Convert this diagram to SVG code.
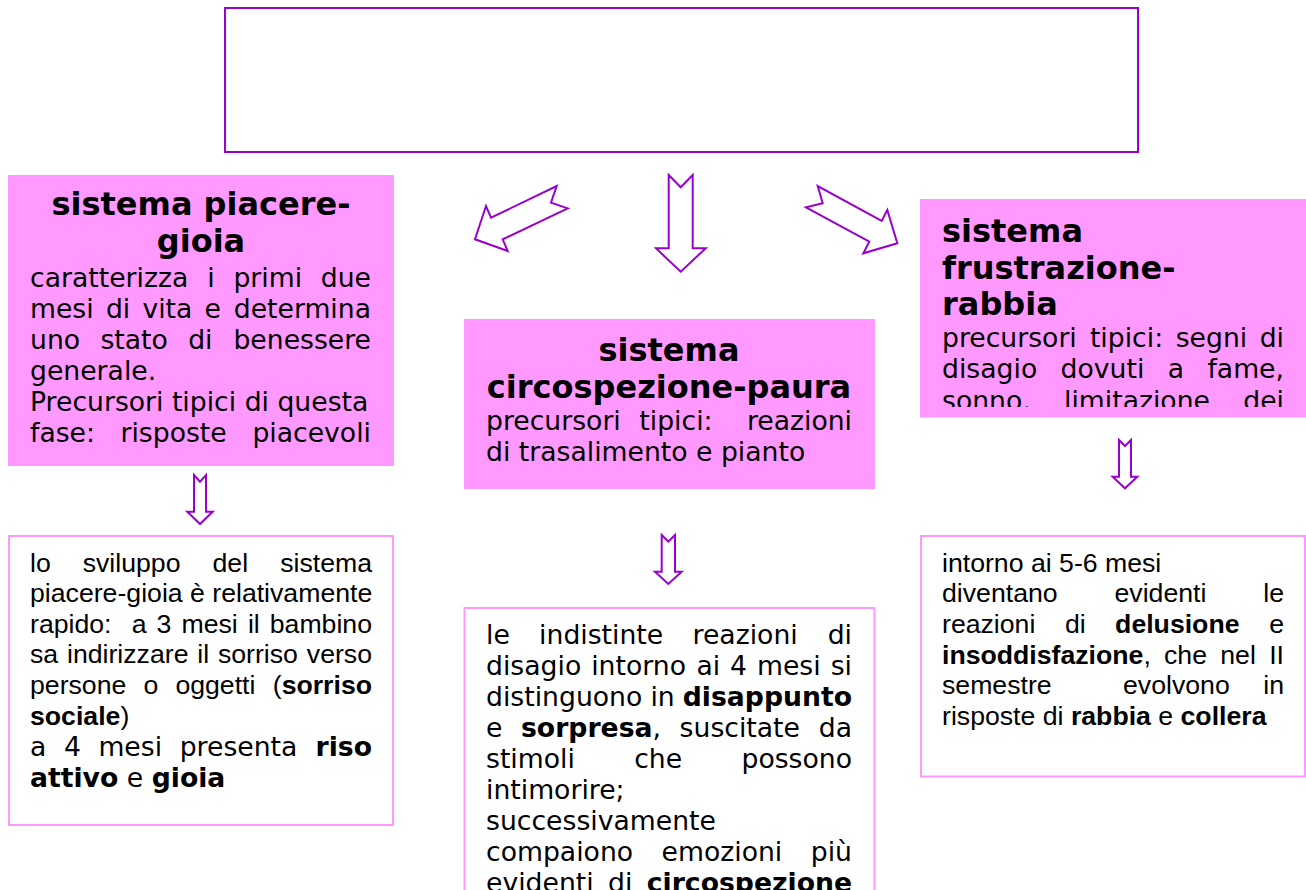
<svg xmlns="http://www.w3.org/2000/svg" width="1306" height="890" viewBox="0 0 1306 890">
<style>
.d{font-family:"DejaVu Sans",sans-serif;font-size:26.67px;fill:#000}
.t{font-family:"DejaVu Sans",sans-serif;font-size:32px;font-weight:bold;fill:#000}
.a{font-family:"Liberation Sans",Arial,sans-serif;font-size:26.67px;fill:#000}
.b{font-weight:bold}
.e{text-anchor:end}
.c{text-anchor:middle}
.pink{fill:#ff99ff;stroke:none}
.wbox{fill:#ffffff;stroke:#ff99ff;stroke-width:2}
.arr{fill:#ffffff;stroke:#9900cc;stroke-width:2;stroke-linejoin:miter}
</style>
<defs>
<clipPath id="clip1"><rect x="8" y="175" width="386" height="283"/></clipPath>
<clipPath id="clip3"><rect x="920" y="199" width="386" height="208"/></clipPath>
</defs>
<rect width="1306" height="890" fill="#ffffff"/>

<g id="top">
<rect x="225" y="8" width="913" height="144" fill="#ffffff" stroke="#9900cc" stroke-width="2"/>
</g>

<g id="connectors">
<polygon class="arr" points="475,239.3 486,206 491,217.7 556.7,186 551,202.7 567.7,208.3 502.7,239.3 507.7,251"/>
<polygon class="arr" points="668.7,175 680.7,187.3 692.7,175 692.7,248.3 705.7,248.3 680.7,271.7 656,248.3 668.7,248.3"/>
<polygon class="arr" points="817.7,186 822.7,203.3 806,207.3 869.3,241.7 863.3,253.3 897.3,243.3 887.3,210 881.7,221"/>
<polygon class="arr" points="194,475 200,481.7 206,475 206,511.7 212.7,511.7 200,524 187.3,511.7 194,511.7"/>
<polygon class="arr" points="661.7,535 668.3,541.7 675,535 675,571.7 681.7,571.7 668.3,584 655,571.7 661.7,571.7"/>
<polygon class="arr" points="1119,440 1125,446 1131,440 1131,476.7 1137.3,476.7 1125,488.3 1112.7,476.7 1119,476.7"/>
</g>

<g id="piacere-gioia">
<rect class="pink" x="8" y="175" width="386" height="291"/>
<g clip-path="url(#clip1)">
<text class="t c" x="201" y="215">sistema piacere-</text>
<text class="t c" x="201" y="252">gioia</text>
<text class="d" y="286.5"><tspan x="30">caratterizza</tspan><tspan x="207.2">i</tspan><tspan x="233.4">primi</tspan></text>
<text class="d e" x="371" y="286.5">due</text>
<text class="d" y="317.5"><tspan x="30">mesi</tspan><tspan x="105.9">di</tspan><tspan x="142.4">vita</tspan><tspan x="204.6">e</tspan></text>
<text class="d e" x="371" y="317.5">determina</text>
<text class="d" y="348.5"><tspan x="30">uno</tspan><tspan x="100.4">stato</tspan><tspan x="188.2">di</tspan></text>
<text class="d e" x="371" y="348.5">benessere</text>
<text class="d" x="30" y="379.5">generale.</text>
<text class="d" x="30" y="410.5">Precursori tipici di questa</text>
<text class="d" y="441.5"><tspan x="30">fase:</tspan><tspan x="120.5">risposte</tspan></text>
<text class="d e" x="371" y="441.5">piacevoli</text>
</g>
</g>

<g id="circospezione-paura">
<rect class="pink" x="464" y="319" width="411" height="170"/>
<text class="t c" x="669" y="361">sistema</text>
<text class="t c" x="669" y="398">circospezione-paura</text>
<text class="d" y="430"><tspan x="486">precursori</tspan><tspan x="639.3">tipici:</tspan></text>
<text class="d e" x="852" y="430">reazioni</text>
<text class="d" x="486" y="460.5">di trasalimento e pianto</text>
</g>

<g id="frustrazione-rabbia">
<rect class="pink" x="920" y="199" width="386" height="218.5"/>
<g clip-path="url(#clip3)">
<text class="t" x="942" y="242">sistema</text>
<text class="t" x="942" y="278.5">frustrazione-</text>
<text class="t" x="942" y="315">rabbia</text>
<text class="d" y="347"><tspan x="942">precursori</tspan><tspan x="1089.9">tipici:</tspan><tspan x="1175.7">segni</tspan></text>
<text class="d e" x="1284" y="347">di</text>
<text class="d" y="378"><tspan x="942">disagio</tspan><tspan x="1060.6">dovuti</tspan><tspan x="1167.7">a</tspan></text>
<text class="d e" x="1284" y="378">fame,</text>
<text class="d" y="410"><tspan x="942">sonno,</tspan><tspan x="1064">limitazione</tspan></text>
<text class="d e" x="1284" y="410">dei</text>
</g>
</g>

<g id="sviluppo-piacere">
<rect class="wbox" x="9" y="536" width="384" height="289"/>
<text class="a" y="571.5"><tspan x="30">lo</tspan><tspan x="82.7">sviluppo</tspan><tspan x="212.5">del</tspan></text>
<text class="a e" x="372" y="571.5">sistema</text>
<text class="a" x="30" y="602">piacere-gioia è relativamente</text>
<text class="a" y="632.7"><tspan x="30">rapido:</tspan><tspan x="131.7">a</tspan><tspan x="156.6">3</tspan><tspan x="181.5">mesi</tspan><tspan x="247.9">il</tspan></text>
<text class="a e" x="372" y="632.7">bambino</text>
<text class="a" y="663.3"><tspan x="30">sa</tspan><tspan x="67">indirizzare</tspan><tspan x="197.3">il</tspan><tspan x="217.9">sorriso</tspan></text>
<text class="a e" x="372" y="663.3">verso</text>
<text class="a" y="694"><tspan x="30">persone</tspan><tspan x="143.5">o</tspan><tspan x="175.4">oggetti</tspan></text>
<text class="a e" x="372" y="694">(<tspan class="b">sorriso</tspan></text>
<text class="a" x="30" y="724.6"><tspan class="b">sociale</tspan>)</text>
<text class="d" y="755.5"><tspan x="30">a</tspan><tspan x="63.9">4</tspan><tspan x="98.4">mesi</tspan><tspan x="179.7">presenta</tspan></text>
<text class="d e b" x="372" y="755.5">riso</text>
<text class="d" x="30" y="786.5"><tspan class="b">attivo</tspan> e <tspan class="b">gioia</tspan></text>
</g>

<g id="disagio-paura">
<rect class="wbox" x="464.5" y="608" width="410" height="300"/>
<text class="d" y="643.5"><tspan x="486">le</tspan><tspan x="539.1">indistinte</tspan><tspan x="692.6">reazioni</tspan></text>
<text class="d e" x="852" y="643.5">di</text>
<text class="d" y="674.5"><tspan x="486">disagio</tspan><tspan x="591.2">intorno</tspan><tspan x="696.4">ai</tspan><tspan x="730.1">4</tspan><tspan x="757">mesi</tspan></text>
<text class="d e" x="852" y="674.5">si</text>
<text class="d" y="705.5"><tspan x="486">distinguono</tspan><tspan x="650.4">in</tspan></text>
<text class="d e b" x="852" y="705.5">disappunto</text>
<text class="d" y="736.5"><tspan x="486">e</tspan><tspan x="521" class="b">sorpresa</tspan>,<tspan x="679.6">suscitate</tspan></text>
<text class="d e" x="852" y="736.5">da</text>
<text class="d" y="767.5"><tspan x="486">stimoli</tspan><tspan x="634.2">che</tspan></text>
<text class="d e" x="852" y="767.5">possono</text>
<text class="d" x="486" y="798.5">intimorire;</text>
<text class="d" x="486" y="829.5">successivamente</text>
<text class="d" y="860.5"><tspan x="486">compaiono</tspan><tspan x="661.6">emozioni</tspan></text>
<text class="d e" x="852" y="860.5">più</text>
<text class="d" y="891.5"><tspan x="486">evidenti</tspan><tspan x="608">di</tspan></text>
<text class="d e b" x="852" y="891.5">circospezione</text>
</g>

<g id="delusione-rabbia">
<rect class="wbox" x="921" y="536" width="384" height="240.5"/>
<text class="a" x="942" y="571.5">intorno ai 5-6 mesi</text>
<text class="a" y="602.2"><tspan x="942">diventano</tspan><tspan x="1114.5">evidenti</tspan></text>
<text class="a e" x="1284" y="602.2">le</text>
<text class="a" y="632.8"><tspan x="942">reazioni</tspan><tspan x="1064.9">di</tspan><tspan x="1115.1" class="b">delusione</tspan></text>
<text class="a e" x="1284" y="632.8">e</text>
<text class="a" y="663.5"><tspan x="942" class="b">insoddisfazione</tspan>,<tspan x="1164">che</tspan><tspan x="1220.3">nel</tspan></text>
<text class="a e" x="1284" y="663.5">II</text>
<text class="a" y="694.1"><tspan x="942">semestre</tspan><tspan x="1123">evolvono</tspan></text>
<text class="a e" x="1284" y="694.1">in</text>
<text class="a" x="942" y="724.8">risposte di <tspan class="b">rabbia</tspan> e <tspan class="b">collera</tspan></text>
</g>
</svg>
